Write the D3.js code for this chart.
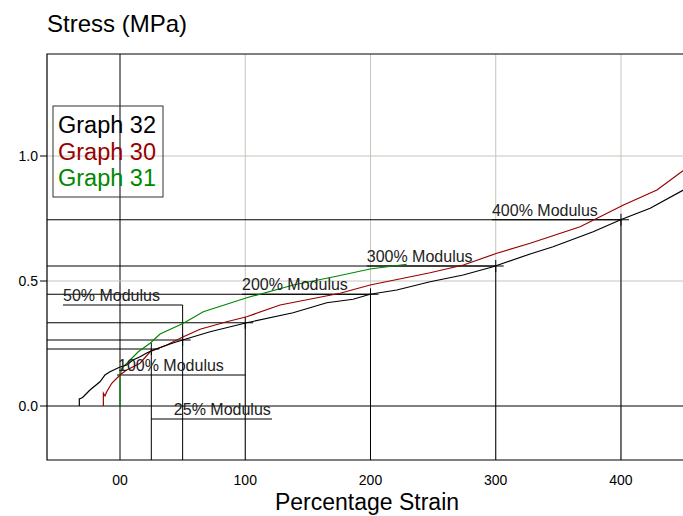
<!DOCTYPE html>
<html>
<head>
<meta charset="utf-8">
<script src="https://cdn.jsdelivr.net/npm/d3@7"></script>
<style>
  body { margin: 0; background: #fff; overflow: hidden; }
  svg { display: block; }
  text { font-family: "Liberation Sans", Arial, sans-serif; }
</style>
</head>
<body>
<div id="chart"></div>
<script>
// Graph 32 (black)
var g32Strain = [-32.5, -32.5, -30.6, -29.3, -24, -16, -12, -8, 0, 5.3, 10.4, 16, 21.3, 26.4, 42.3, 50, 71.9, 101.2, 138.2, 165.1, 186.1, 199.7, 221, 247.6, 274, 297.9, 327.5, 345.8, 377.8, 400.7, 423.3, 452];
var g32Stress = [0, 0.028, 0.032, 0.037, 0.064, 0.097, 0.124, 0.137, 0.156, 0.164, 0.184, 0.197, 0.212, 0.224, 0.252, 0.264, 0.297, 0.333, 0.373, 0.413, 0.427, 0.447, 0.464, 0.497, 0.524, 0.557, 0.608, 0.637, 0.697, 0.747, 0.791, 0.87];
// Graph 30 (red)
var g30Strain = [-13.3, -13.3, -12, -10.6, -6.6, 0, 5.3, 16, 24, 37.3, 50.6, 63.9, 85.2, 101.2, 127.8, 175.7, 199.7, 247.6, 274.2, 300.9, 327.5, 367.4, 402, 428.7, 452];
var g30Stress = [0, 0.051, 0.04, 0.057, 0.091, 0.124, 0.144, 0.171, 0.217, 0.244, 0.277, 0.307, 0.337, 0.357, 0.404, 0.451, 0.484, 0.533, 0.564, 0.611, 0.651, 0.717, 0.804, 0.864, 0.95];
// Graph 31 (green)
var g31Strain = [0, 0, 1.4, 8, 14.6, 24, 32, 50.6, 66.5, 101.2, 138.4, 175.7, 199.7, 229];
var g31Stress = [0, 0.117, 0.151, 0.184, 0.217, 0.251, 0.288, 0.331, 0.377, 0.433, 0.484, 0.522, 0.548, 0.567];

// modulus markers
var modStrain = [25, 50, 100, 200, 300, 400];
var modStress = [0.228, 0.264, 0.333, 0.447, 0.56, 0.745];
var modLabels = ["25% Modulus", "50% Modulus", "100% Modulus", "200% Modulus", "300% Modulus", "400% Modulus"];
var modLabelY = [-0.052, 0.404, 0.124, 0.447, 0.56, 0.745];
var modLabelX = [43, -45.5, -1.6, 97.4, 197, 297];
var modLineFrom = [25, -45.5, -2.4, 97.4, 197, 297];
var modLineTo = [121.4, 50, 100, 200, 300, 400];

var xTicks = [0, 100, 200, 300, 400];
var xTickLabels = ["00", "100", "200", "300", "400"];
var yTicks = [0, 0.5, 1.0];

var legendNames = ["Graph 32", "Graph 30", "Graph 31"];
var legendColors = ["#000000", "#990000", "#008800"];

var width = 683, height = 516;
var svg = d3.select("#chart").append("svg")
  .attr("width", width).attr("height", height);

var x = d3.scaleLinear().domain([-58.3, 450]).range([47, 683.6]);
var y = d3.scaleLinear().domain([-0.216, 1.408]).range([460, 54]);

// grid
svg.append("g").selectAll("line").data(xTicks).enter().append("line")
  .attr("x1", function(d) { return x(d); }).attr("x2", function(d) { return x(d); })
  .attr("y1", y(1.408)).attr("y2", y(-0.216))
  .attr("stroke", function(d) { return d == 0 ? "#000" : "#c8c4bc"; })
  .attr("stroke-width", 1);
svg.append("g").selectAll("line").data(yTicks).enter().append("line")
  .attr("x1", x(-58.3)).attr("x2", width)
  .attr("y1", function(d) { return y(d); }).attr("y2", function(d) { return y(d); })
  .attr("stroke", function(d) { return d == 0 ? "#000" : "#c8c4bc"; })
  .attr("stroke-width", 1);

// frame
svg.append("path")
  .attr("d", "M" + width + "," + y(1.408) + "H" + x(-58.3) + "V" + y(-0.216) + "H" + width)
  .attr("fill", "none").attr("stroke", "#000").attr("stroke-width", 1.2);

// y ticks + labels
svg.append("g").selectAll("line").data(yTicks).enter().append("line")
  .attr("x1", x(-58.3) - 7).attr("x2", x(-58.3))
  .attr("y1", function(d) { return y(d); }).attr("y2", function(d) { return y(d); })
  .attr("stroke", "#000");
svg.append("g").selectAll("text").data(yTicks).enter().append("text")
  .attr("x", x(-58.3) - 9).attr("y", function(d) { return y(d); })
  .attr("dy", "0.35em").attr("text-anchor", "end")
  .attr("font-size", 14).text(function(d) { return d3.format(".1f")(d); });

// x tick labels
svg.append("g").selectAll("text").data(xTicks).enter().append("text")
  .attr("x", function(d) { return x(d); }).attr("y", 485)
  .attr("text-anchor", "middle").attr("font-size", 14)
  .text(function(d, i) { return xTickLabels[i]; });

// modulus markers
var mods = modStrain.map(function(s, i) { return i; });
var mg = svg.append("g").attr("stroke", "#000").attr("stroke-width", 1);
mods.forEach(function(i) {
  var px = x(modStrain[i]), py = y(modStress[i]), ly = y(modLabelY[i]);
  mg.append("line").attr("x1", x(-58.3)).attr("x2", px + 8).attr("y1", py).attr("y2", py);
  mg.append("line").attr("x1", px).attr("x2", px).attr("y1", Math.min(py, ly)).attr("y2", y(-0.216));
  mg.append("line").attr("x1", px).attr("x2", px).attr("y1", py - 6).attr("y2", py + 6);
  mg.append("line").attr("x1", x(modLineFrom[i])).attr("x2", x(modLineTo[i])).attr("y1", ly).attr("y2", ly);
});

// curves
var line = d3.line().x(function(d) { return x(d[0]); }).y(function(d) { return y(d[1]); });
var series = [
  { sx: g31Strain, sy: g31Stress, c: legendColors[2] },
  { sx: g30Strain, sy: g30Stress, c: legendColors[1] },
  { sx: g32Strain, sy: g32Stress, c: legendColors[0] }
];
svg.append("clipPath").attr("id", "clip").append("rect")
  .attr("x", 47).attr("y", 54).attr("width", width - 47).attr("height", 406);
series.forEach(function(s) {
  svg.append("path")
    .datum(s.sx.map(function(v, i) { return [v, s.sy[i]]; }))
    .attr("clip-path", "url(#clip)")
    .attr("d", line).attr("fill", "none").attr("stroke", s.c).attr("stroke-width", 1.2);
});

// modulus labels
svg.append("g").selectAll("text").data(mods).enter().append("text")
  .attr("x", function(i) { return x(modLabelX[i]); })
  .attr("y", function(i) { return y(modLabelY[i]) - 4; })
  .attr("font-size", 16).attr("fill", "#222")
  .text(function(i) { return modLabels[i]; });

// legend
svg.append("rect").attr("x", 53).attr("y", 106).attr("width", 110).attr("height", 91)
  .attr("fill", "none").attr("stroke", "#333").attr("stroke-width", 1);
svg.append("g").selectAll("text").data(legendNames).enter().append("text")
  .attr("x", 58).attr("y", function(d, i) { return 133 + i * 26.5; })
  .attr("font-size", 23.5).attr("fill", function(d, i) { return legendColors[i]; })
  .text(function(d) { return d; });

// titles
svg.append("text").attr("x", 47).attr("y", 32).attr("font-size", 24).text("Stress (MPa)");
svg.append("text").attr("x", 367).attr("y", 510).attr("text-anchor", "middle")
  .attr("font-size", 23).text("Percentage Strain");
</script>
</body>
</html>
